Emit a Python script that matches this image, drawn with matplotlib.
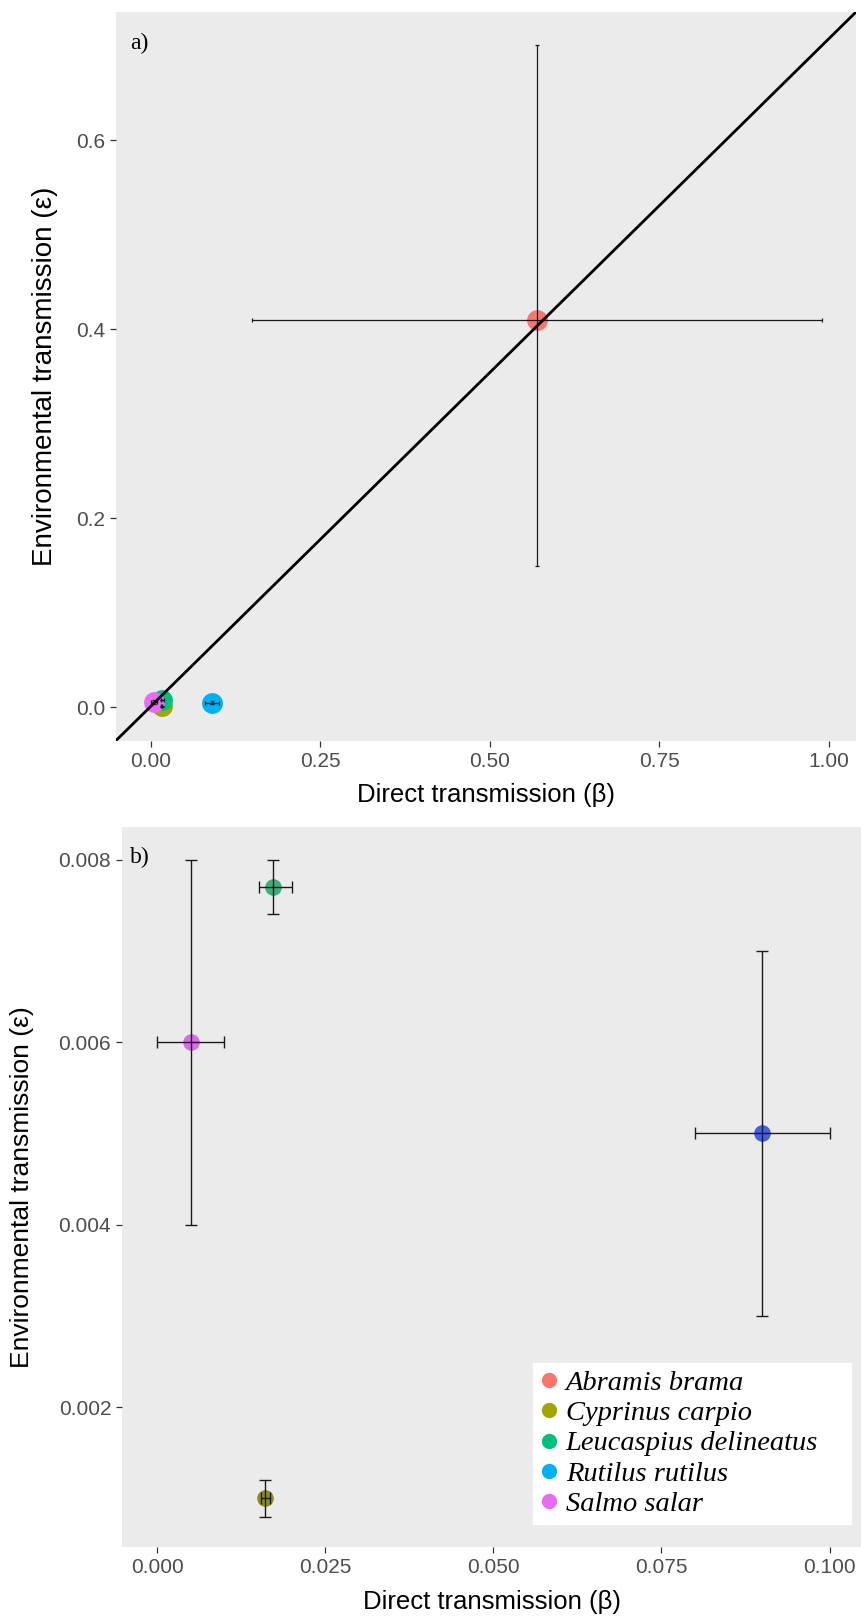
import matplotlib.pyplot as plt
from matplotlib.lines import Line2D

species = ['Abramis brama', 'Cyprinus carpio', 'Leucaspius delineatus',
           'Rutilus rutilus', 'Salmo salar']
colours = ['#F8766D', '#A3A500', '#00BF7D', '#00B0F6', '#E76BF3']
# zoomed panel uses slightly deeper tones
colours_zoom = ['#F8766D', '#8E8E1E', '#3FAE78', '#4560E0', '#D86BE8']

# direct transmission (beta): estimate with lower / upper bounds
beta = [0.57, 0.016, 0.0172, 0.09, 0.005]
beta_lo = [0.15, 0.0155, 0.0152, 0.08, 0.0]
beta_hi = [0.99, 0.0168, 0.0200, 0.10, 0.01]

# environmental transmission (epsilon): estimate with lower / upper bounds
eps = [0.41, 0.001, 0.0077, 0.005, 0.006]
eps_lo = [0.15, 0.0008, 0.0074, 0.003, 0.004]
eps_hi = [0.70, 0.0012, 0.0080, 0.007, 0.008]

# fitted line shown in panel a
fit_slope = 0.706
fit_intercept = 0.001

xticks_a = [0.0, 0.25, 0.5, 0.75, 1.0]
yticks_a = [0.0, 0.2, 0.4, 0.6]
xticks_b = [0.0, 0.025, 0.05, 0.075, 0.1]
yticks_b = [0.002, 0.004, 0.006, 0.008]

PANEL = '#EBEBEB'
SANS = 'Liberation Sans'
SERIF = 'Liberation Serif'


def style_axes(ax):
    ax.set_facecolor(PANEL)
    for s in ax.spines.values():
        s.set_visible(False)
    ax.tick_params(length=4, width=0.9, color='#333333', labelcolor='#4D4D4D',
                   labelsize=15, pad=4)
    for lab in ax.get_xticklabels() + ax.get_yticklabels():
        lab.set_fontfamily(SANS)


def bounds(vals, lo, hi):
    return [[v - l for v, l in zip(vals, lo)], [h - v for v, h in zip(vals, hi)]]


fig = plt.figure(figsize=(8.61, 16.16), dpi=100)

# ---- panel a: all species with fitted line ----
ax1 = fig.add_axes([0.13473, 0.54176, 0.85947, 0.45080])
for i in range(len(species)):
    ax1.plot(beta[i], eps[i], 'o', color=colours[i], markersize=15,
             markeredgewidth=0, zorder=2)
ax1.errorbar(beta, eps, xerr=bounds(beta, beta_lo, beta_hi),
             yerr=bounds(eps, eps_lo, eps_hi), fmt='none', ecolor='#1A1A1A',
             elinewidth=0.9, capsize=1.5, capthick=0.9, zorder=3)
ax1.axline((0, fit_intercept), slope=fit_slope, color='black', linewidth=2, zorder=4)
ax1.set_xlim(-0.0512, 1.0403)
ax1.set_ylim(-0.0351, 0.7354)
ax1.set_xticks(xticks_a)
ax1.set_xticklabels([f'{v:.2f}' for v in xticks_a])
ax1.set_yticks(yticks_a)
ax1.set_yticklabels([f'{v:.1f}' for v in yticks_a])
style_axes(ax1)
ax1.set_xlabel('Direct transmission (β)', fontsize=18.5, family=SANS)
ax1.xaxis.set_label_coords(0.5, -0.0748)
ax1.xaxis.label.set_va('center')
ax1.set_ylabel('Environmental transmission (ε)', fontsize=20, family=SANS)
ax1.yaxis.set_label_coords(-0.0959, 0.5)
ax1.yaxis.label.set_va('center')
ax1.text(0.019, 0.957, 'a)', transform=ax1.transAxes, fontsize=17,
         family=SERIF, va='center', ha='left')

# ---- panel b: zoom on the small-beta species ----
ax2 = fig.add_axes([0.14204, 0.04270, 0.85796, 0.44573])
for i in range(1, len(species)):
    ax2.plot(beta[i], eps[i], 'o', color=colours_zoom[i], markersize=12,
             markeredgewidth=0, zorder=2)
ax2.errorbar(beta[1:], eps[1:], xerr=bounds(beta[1:], beta_lo[1:], beta_hi[1:]),
             yerr=bounds(eps[1:], eps_lo[1:], eps_hi[1:]), fmt='none',
             ecolor='#1A1A1A', elinewidth=1.0, capsize=4, capthick=1.0, zorder=3)
ax2.set_xlim(-0.00516, 0.10467)
ax2.set_ylim(0.000466, 0.00836)
ax2.set_xticks(xticks_b)
ax2.set_xticklabels([f'{v:.3f}' for v in xticks_b])
ax2.set_yticks(yticks_b)
ax2.set_yticklabels([f'{v:.3f}' for v in yticks_b])
style_axes(ax2)
ax2.set_xlabel('Direct transmission (β)', fontsize=18.5, family=SANS)
ax2.xaxis.set_label_coords(0.5, -0.0759)
ax2.xaxis.label.set_va('center')
ax2.set_ylabel('Environmental transmission (ε)', fontsize=19, family=SANS)
ax2.yaxis.set_label_coords(-0.1358, 0.5)
ax2.yaxis.label.set_va('center')
ax2.text(0.0104, 0.957, 'b)', transform=ax2.transAxes, fontsize=17,
         family=SERIF, va='center', ha='left')

# legend box stretched to a fixed width, entries left aligned
handles = [Line2D([], [], linestyle='none', marker='o', markersize=11,
                  markeredgewidth=0, color=c) for c in colours]
leg = ax2.legend(handles, species, loc='lower left', mode='expand',
                 bbox_to_anchor=(0.556, 0.0319, 0.4305, 0.2), borderaxespad=0,
                 prop={'family': SERIF, 'style': 'italic', 'size': 20.5},
                 frameon=True, fancybox=False, edgecolor='white',
                 facecolor='white', framealpha=1, labelspacing=0.15,
                 handlelength=0.6, handletextpad=0.3, borderpad=0.25)

fig.savefig('out.png', dpi=100)
